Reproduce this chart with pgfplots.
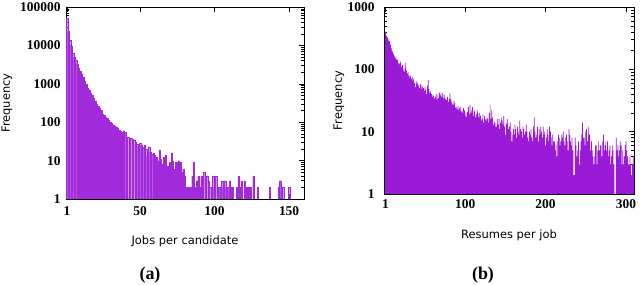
\documentclass[border=0pt]{standalone}
\usepackage{pgfplots}
\pgfplotsset{compat=1.18}
\usepackage{fontspec}
\newfontfamily\labfont{DejaVu Sans}
\newfontfamily\numfont{Liberation Serif}
\definecolor{dv}{HTML}{9400D3}
\definecolor{lv}{HTML}{B456E4}
\definecolor{mv}{HTML}{A12ADB}
\definecolor{rv}{HTML}{9A1AD8}

\pgfplotstableread{
x y
1 52000
2 23000
3 14000
4 9800
5 6300
6 5000
7 4200
8 3300
9 2600
10 2100
11 1750
12 1480
13 1150
14 1000
15 780
16 700
17 570
18 500
19 420
20 360
21 290
22 270
23 230
24 205
25 165
26 150
27 135
28 125
29 112
30 103
31 95
32 86
33 80
34 76
35 72
36 62
37 58
38 56
39 60
40 55
41 42
42 40
43 39
44 38
45 36
46 34
47 30
48 27
49 24
50 28
51 25
52 22
53 25
54 20
55 13
56 23
57 17
58 15
59 16
60 14
61 12
62 10
63 19
64 11
65 8
66 12
67 14
68 7
69 7
70 9
71 16
72 10
73 6
74 9
75 9
76 10
77 9
78 5
79 6
80 4
81 2
82 2
83 2
84 2
85 4
86 9
87 2
88 3
89 4
90 2
91 4
92 3
93 5
94 2
95 4
96 3
97 2
98 2
99 4
100 2
101 4
103 2
104 2
105 3
106 2
107 3
108 2
109 2
110 3
111 2
112 2
115 2
116 4
117 2
118 3
120 3
121 2
122 2
123 2
124 2
126 4
129 2
137 2
143 2
144 3
146 2
150 2
}\jobsdata

\pgfplotstableread{
x y
1 400
2 340
3 330
4 315
5 290
6 280
7 250
8 220
9 200
10 190
11 175
12 160
13 150
14 155
15 140
16 145
17 125
18 120
19 128
20 135
21 110
22 118
23 100
24 92
25 105
26 128
27 95
28 86
29 90
30 80
31 73
32 78
33 70
34 75
35 66
36 70
37 60
38 52
39 64
40 58
41 61
42 55
43 50
44 58
45 56
46 48
47 52
48 50
49 45
50 52
51 47
52 40
53 55
54 67
55 48
56 42
57 45
58 40
59 36
60 39
61 37
62 34
63 36
64 40
65 33
66 39
67 35
68 42
69 38
70 41
71 36
72 42
73 34
74 39
75 35
76 33
77 32
78 36
79 30
80 34
81 41
82 33
83 30
84 28
85 27
86 31
87 29
88 24
89 25
90 23
91 26
92 22
93 24
94 25
95 21
96 22
97 20
98 24
99 22
100 18
101 20
102 17
103 21
104 25
105 19
106 27
107 20
108 22
109 25
110 18
111 21
112 22
113 17
114 19
115 22
116 20
117 17
118 20
119 18
120 15
121 16
122 19
123 14
124 18
125 16
126 15
127 17
128 16
129 14
130 20
131 27
132 16
133 22
134 17
135 13
136 15
137 14
138 12
139 12
140 16
141 13
142 16
143 11
144 14
145 17
146 15
147 13
148 18
149 12
150 9
151 14
152 13
153 16
154 11
155 12
156 14
157 10
158 7
159 9
160 11
161 9
162 13
163 11
164 8
165 12
166 10
167 9
168 15
169 11
170 10
171 8
172 12
173 11
174 9
175 10
176 13
177 10
178 8
179 7
180 10
181 9
182 11
183 8
184 7
185 12
186 17
187 10
188 8
189 9
190 12
191 7
192 11
193 9
194 12
195 10
196 8
197 12
198 9
199 10
200 6
201 8
202 11
203 9
204 7
205 12
206 10
207 8
208 6
209 9
210 7
211 7
212 5
213 6
214 4
215 7
216 9
217 8
218 6
219 7
220 9
221 8
222 10
223 7
224 6
225 8
226 9
227 7
228 5
229 11
230 9
231 7
232 6
233 8
234 5
235 2
236 2
237 8
238 6
239 4
240 5
241 7
242 3
243 5
244 7
245 9
246 14
247 8
248 8
249 6
250 10
251 11
252 7
253 12
254 9
255 9
256 5
257 7
258 5
259 4
260 3
261 4
262 6
263 6
264 3
265 5
266 7
267 5
268 6
269 6
270 4
271 7
272 9
273 5
274 6
275 7
276 5
277 7
278 4
279 5
280 6
281 3
282 4
283 6
284 5
285 3
288 8
289 5
290 6
291 4
292 5
293 7
294 6
295 3
296 5
297 3
298 4
299 6
300 7
301 5
302 4
303 3
304 3
305 4
306 3
307 2
308 3
309 4
310 3
}\resdata

\begin{document}
\begin{tikzpicture}
\path[use as bounding box] (0bp,0bp) rectangle (640bp,285bp);
\begin{axis}[
  scale only axis,
  anchor=south west,
  at={(66bp,86bp)}, width=238bp, height=192bp,
  ymode=log, ymin=1, ymax=100000,
  xmin=0.3, xmax=160,
  ybar, bar width=0.8, bar shift=0pt,
  axis line style={line width=0.8bp},
  tick style={black, line width=0.5bp},
  major tick length=5bp, minor tick length=3bp,
  tick align=inside,
  ticklabel style={font=\numfont\bfseries\fontsize{13.5}{13.5}\selectfont},
  label style={font=\labfont\fontsize{11.5}{12}\selectfont},
  xtick={1,50,100,150}, xticklabels={1,50,100,150},
  xticklabel style={yshift=-4bp},
  ytick={1,10,100,1000,10000,100000},
  yticklabels={1,10,100,1000,10000,100000},
  yticklabel style={xshift=-2bp},
  xlabel={Jobs per candidate},
  ylabel={Frequency},
  xlabel style={at={(axis description cs:0.5,-0.219)}, anchor=center},
  ylabel style={at={(axis description cs:-0.248,0.5)}, anchor=center},
]
\addplot[fill=lv, draw=mv, line width=0.15bp] table[x=x,y=y] {\jobsdata};
\end{axis}
\begin{axis}[
  scale only axis,
  anchor=south west,
  at={(384bp,91bp)}, width=250bp, height=187bp,
  ymode=log, ymin=1, ymax=1000,
  xmin=-1, xmax=310,
  ybar, bar width=0.9, bar shift=0pt,
  axis line style={line width=0.8bp},
  tick style={black, line width=0.5bp},
  major tick length=5bp, minor tick length=3bp,
  tick align=inside,
  ticklabel style={font=\numfont\bfseries\fontsize{13.5}{13.5}\selectfont},
  label style={font=\labfont\fontsize{11.5}{12}\selectfont},
  xtick={1,100,200,300}, xticklabels={1,100,200,300},
  xticklabel style={yshift=-2bp},
  ytick={1,10,100,1000},
  yticklabels={1,10,100,1000},
  yticklabel style={xshift=-6bp},
  xlabel={Resumes per job},
  ylabel={Frequency},
  xlabel style={at={(axis description cs:0.5,-0.219)}, anchor=center},
  ylabel style={at={(axis description cs:-0.18,0.5)}, anchor=center},
]
\addplot[fill=rv, draw=none] table[x=x,y=y] {\resdata};
\end{axis}
\node[font=\numfont\bfseries\fontsize{18}{18}\selectfont] at (150bp,10bp) {(a)};
\node[font=\numfont\bfseries\fontsize{18}{18}\selectfont] at (483bp,10bp) {(b)};
\end{tikzpicture}
\end{document}
